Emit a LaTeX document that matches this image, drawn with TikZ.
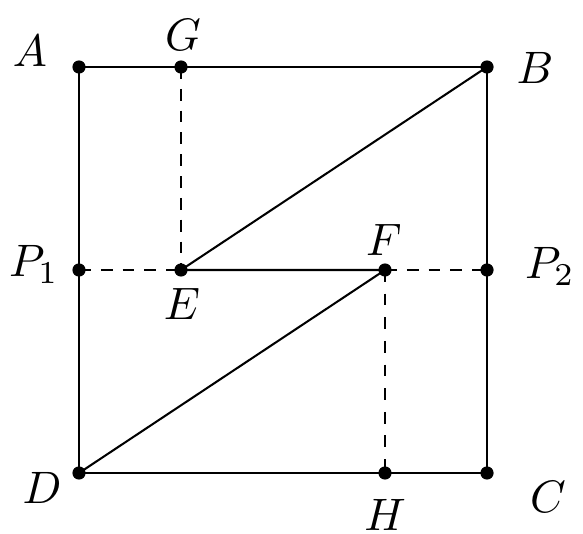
\documentclass[tikz,border=0pt]{standalone}
\begin{document}
\begin{tikzpicture}[x=0.22pt,y=-0.22pt,
  solidline/.style={line width=0.45pt},
  dashline/.style={line width=0.45pt,dash pattern=on 2.6pt off 2.2pt},
  thindash/.style={line width=0.3pt,dash pattern=on 2.6pt off 2.6pt},
  pt/.style={circle,fill=black,inner sep=0pt,minimum size=2.9pt},
  lbl/.style={inner sep=0pt}]
\useasboundingbox (0,0) rectangle (583,534);
\node[pt] (A) at (79,67) {};
\node[pt] (G) at (181,67) {};
\node[pt] (B) at (487,67) {};
\node[pt] (P1) at (79,270) {};
\node[pt] (E) at (181,270) {};
\node[pt] (F) at (385,270) {};
\node[pt] (P2) at (487,270) {};
\node[pt] (D) at (79,473) {};
\node[pt] (H) at (385,473) {};
\node[pt] (C) at (487,473) {};
\draw[solidline] (A.center) -- (B.center) -- (C.center) -- (D.center) -- cycle;
\draw[solidline] (B.center) -- (E.center) -- (F.center) -- (D.center);
\draw[dashline] (P1.center) -- (E.center);
\draw[dashline] (F.center) -- (P2.center);
\draw[dashline] (G.center) -- (E.center);
\draw[thindash] (F.center) -- (H.center);
\node[lbl] (lA) at (30,51) {$A$};
\node[lbl] (lG) at (183,35) {$G$};
\node[lbl] (lB) at (535,68) {$B$};
\node[lbl,anchor=base] (lP1) at (34,277) {$P_1$};
\node[lbl,anchor=base] (lP2) at (550,279) {$P_2$};
\node[lbl] (lE) at (182,304) {$E$};
\node[lbl] (lF) at (384,240) {$F$};
\node[lbl] (lD) at (42,488) {$D$};
\node[lbl] (lH) at (385,515) {$H$};
\node[lbl] (lC) at (548,497) {$C$};
\end{tikzpicture}
\end{document}
